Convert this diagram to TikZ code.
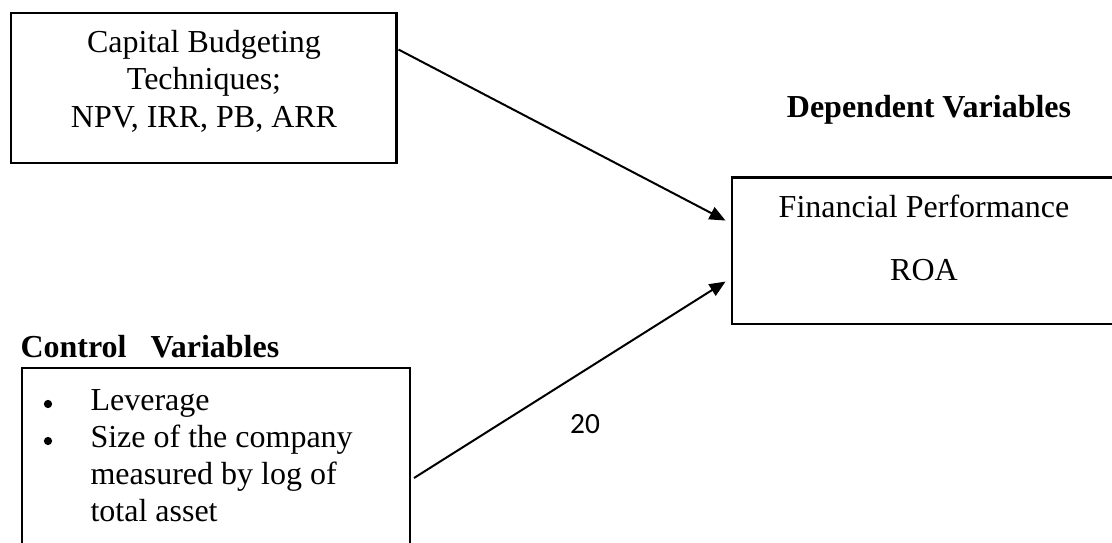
\documentclass[tikz,border=0pt]{standalone}
\usepackage{fontspec}
\setmainfont{Liberation Serif}
\newfontfamily\calibri{Carlito}
\usetikzlibrary{arrows.meta,calc}

\begin{document}
\begin{tikzpicture}[x=0.375pt,y=-0.375pt,
	box/.style={draw,line width=1.1pt,inner sep=0pt},
	arr/.style={line width=0.75pt,-{Triangle[length=6pt,width=5pt]}},
	txt/.style={font=\fontsize{12pt}{13.8pt}\selectfont,inner sep=0pt,anchor=base},
	hd/.style={txt,font=\fontsize{12pt}{13.8pt}\selectfont\bfseries},
	dot/.style={circle,fill,inner sep=0pt,minimum size=3.1pt}]
			
			\useasboundingbox (0,0) rectangle (1112,542);
			\clip (0,0) rectangle (1112,542);
			
			\node[box,minimum width=144.4pt,minimum height=56.25pt] (cbt) at (203.5,88) {};
			\node[box,minimum width=144pt,minimum height=55.1pt] (fp) at (924,250.5) {};
			\node[box,line width=0.75pt,minimum width=145.5pt,minimum height=76.5pt] (ctrl) at (216,470) {};
			
			\node[txt] (cbt1) at (204,53) {Capital Budgeting};
			\node[txt] (cbt2) at (204,90) {Techniques;};
			\node[txt] (cbt3) at (204,128) {NPV, IRR, PB, ARR};
			
			\node[txt] (fp1) at (924,217) {Financial Performance};
			\node[txt] (fp2) at (924,280) {ROA};
			
			\node[hd] (dep) at (929,117) {Dependent Variables};
			\node[hd,anchor=base west] (ctl) at (20,357) {Control\hspace{9pt}Variables};
			
			\foreach \y/\lbl [count=\i] in {410/Leverage,447/Size of the company,484/measured by log of,521/total asset}
				\node[txt,anchor=base west] (item\i) at (90,\y) {\lbl};
			\node[dot] (dot1) at (48,404) {};
			\node[dot] (dot2) at (48,441) {};
			
			\node[txt,font=\calibri\fontsize{11pt}{13pt}\selectfont] (pg) at (585,433) {20};
			
			\draw[arr] ($(cbt.north east)+(1,38)$) -- ($(fp.north west)+(-5,45)$);
			\draw[arr] ($(ctrl.north east)+(3,111)$) -- ($(fp.north west)+(-5,106)$);
			
		\end{tikzpicture}
\end{document}
